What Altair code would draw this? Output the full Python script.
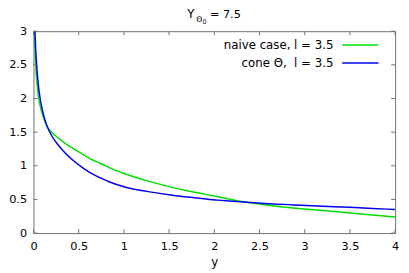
import altair as alt
import pandas as pd

# ---- data ----
green_x = [0.003, 0.008, 0.015, 0.025, 0.04, 0.055, 0.075, 0.1, 0.125, 0.153, 0.2, 0.25,
           0.3, 0.375, 0.456, 0.545, 0.65, 0.75, 0.85, 0.973, 1.1, 1.25, 1.5, 1.7, 1.83,
           2.04, 2.2, 2.36, 2.6, 2.9, 3.2, 3.5, 3.75, 4.0]
green_y = [3.3, 3.0, 2.75, 2.5, 2.2, 2.02, 1.88, 1.76, 1.66, 1.58, 1.50, 1.44,
           1.385, 1.31, 1.245, 1.17, 1.09, 1.03, 0.965, 0.90, 0.84, 0.78, 0.69, 0.63, 0.595,
           0.54, 0.495, 0.457, 0.415, 0.37, 0.335, 0.30, 0.27, 0.24]
blue_x = [0.008, 0.016, 0.025, 0.035, 0.05, 0.07, 0.1, 0.125, 0.153, 0.2, 0.25, 0.33,
          0.42, 0.545, 0.65, 0.75, 0.85, 0.973, 1.1, 1.25, 1.5, 1.7, 1.83, 2.04, 2.2,
          2.36, 2.6, 2.9, 3.2, 3.5, 3.75, 4.0]
blue_y = [3.3, 3.0, 2.72, 2.5, 2.25, 2.03, 1.82, 1.69, 1.58, 1.45, 1.35, 1.22,
          1.10, 0.97, 0.88, 0.815, 0.755, 0.70, 0.655, 0.62, 0.57, 0.535, 0.518, 0.49, 0.473,
          0.457, 0.437, 0.418, 0.40, 0.383, 0.367, 0.35]
series_names = ["naive case, l = 3.5", "cone Θ,\u00a0 l = 3.5"]
series_colors = ["#00e000", "#0000f0"]
x_ticks = [0, 0.5, 1, 1.5, 2, 2.5, 3, 3.5, 4]
y_ticks = [0, 0.5, 1, 1.5, 2, 2.5, 3]
title_main = "Y"
title_sub = "Θ"
title_subsub = "0"
title_rest = "= 7.5"
x_title = "y"

W, H = 369, 206
FONT = "DejaVu Sans"
FRAME = "#707070"

df = pd.DataFrame({
    "x": green_x + blue_x,
    "v": green_y + blue_y,
    "series": [series_names[0]] * len(green_x) + [series_names[1]] * len(blue_x),
})

xs = alt.Scale(domain=[0, 4], nice=False, zero=False)
ys = alt.Scale(domain=[0, 3], nice=False, zero=False)
x_axis = alt.Axis(
    values=x_ticks, format="~g", title=x_title, ticks=False, domain=False, grid=False,
    labelFont=FONT, labelFontSize=11.5, labelColor="black", labelPadding=8, labelFlush=False,
    titleFont=FONT, titleFontSize=12, titleFontWeight="normal", titleColor="black",
    titlePadding=5)
y_axis = alt.Axis(
    values=y_ticks, format="~g", title=None, ticks=False, domain=False, grid=False,
    labelFont=FONT, labelFontSize=11.5, labelColor="black", labelPadding=7)

X = alt.X("x:Q", scale=xs, axis=x_axis, title=x_title)
Y = alt.Y("v:Q", scale=ys, axis=y_axis, title=None)

lines = alt.Chart(df).mark_line(strokeWidth=1.5, clip=True, interpolate="monotone").encode(
    x=X, y=Y,
    color=alt.Color("series:N", scale=alt.Scale(domain=series_names, range=series_colors),
                    legend=None),
    order="x:Q",
)

xt = pd.DataFrame({"x": x_ticks})
yt = pd.DataFrame({"v": y_ticks})
tick_bottom = alt.Chart(xt).mark_rule(color=FRAME, strokeWidth=1).encode(
    x=X, y=alt.value(H), y2=alt.value(H - 4))
tick_top = alt.Chart(xt).mark_rule(color=FRAME, strokeWidth=1).encode(
    x=X, y=alt.value(0), y2=alt.value(4))
tick_left = alt.Chart(yt).mark_rule(color=FRAME, strokeWidth=1).encode(
    y=Y, x=alt.value(0), x2=alt.value(4))
tick_right = alt.Chart(yt).mark_rule(color=FRAME, strokeWidth=1).encode(
    y=Y, x=alt.value(W - 4), x2=alt.value(W))

def legend_entry(i, ypos):
    t = alt.Chart(pd.DataFrame({"series": [series_names[i]]})).mark_text(
        align="right", baseline="middle", font=FONT, fontSize=12, color="black"
    ).encode(text="series:N", x=alt.value(306), y=alt.value(ypos))
    r = alt.Chart(pd.DataFrame({"series": [series_names[i]]})).mark_rule(
        strokeWidth=1.5, color=series_colors[i]
    ).encode(x=alt.value(315), x2=alt.value(352), y=alt.value(ypos))
    return t + r

def title_part(txt, xpos, ypos, size):
    return alt.Chart(pd.DataFrame({"t": [txt]})).mark_text(
        align="left", baseline="alphabetic", font=FONT, fontSize=size, color="black"
    ).encode(text="t:N", x=alt.value(xpos), y=alt.value(ypos))

title_layers = (title_part(title_main, 157, -13, 12)
                + title_part(title_sub, 166, -9, 8)
                + title_part(title_subsub, 172.5, -7, 6.5)
                + title_part(title_rest, 180, -13, 11.5))

chart = alt.layer(
    lines, tick_bottom, tick_top, tick_left, tick_right,
    legend_entry(0, 14), legend_entry(1, 32.5), title_layers
).properties(
    width=W, height=H,
    autosize=alt.AutoSizeParams(type="none"),
    padding={"left": 26, "top": 21, "right": 6, "bottom": 36},
    background="white",
).configure_view(stroke=FRAME, strokeWidth=1)

chart.save("out.html", embed_options={"renderer": "svg", "actions": False})
